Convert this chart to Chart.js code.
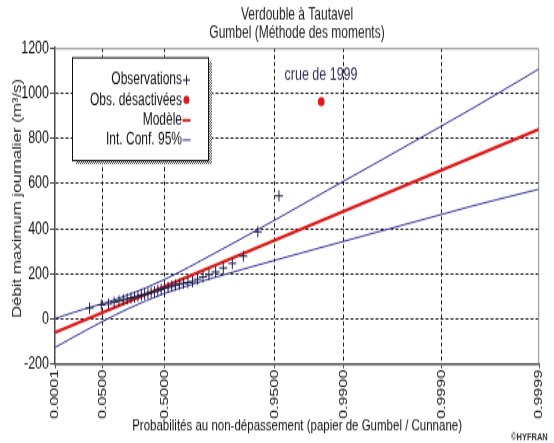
<!DOCTYPE html>
<html>
<head>
<meta charset="utf-8">
<script src="https://cdn.jsdelivr.net/npm/chart.js@4.4.1/dist/chart.umd.min.js"></script>
<style>
  html, body { margin: 0; padding: 0; background: #fff; overflow: hidden; }
</style>
</head>
<body>
<!-- drawn on a 554x316 canvas, shown stretched to 554x443 -->
<canvas id="gumbelChart" width="554" height="316" style="display:block;width:554px;height:443px;"></canvas>
<script>
const FONT = "'Liberation Sans', Arial, sans-serif";

const titleLines = ['Verdouble à Tautavel', 'Gumbel (Méthode des moments)'];
const xTitle = 'Probabilités au non-dépassement (papier de Gumbel / Cunnane)';
const yTitle = 'Débit maximum journalier (m³/s)';

// probability ticks of the Gumbel paper
const xTickProbs = [0.0001, 0.05, 0.5, 0.95, 0.99, 0.999, 0.9999];
const xTickLabels = ['0.0001', '0.0500', '0.5000', '0.9500', '0.9900', '0.9990', '0.9999'];

// annual maxima (Cunnane positions)
const obsProb = [0.0170, 0.0455, 0.0739, 0.1023, 0.1307, 0.1591, 0.1875, 0.2159, 0.2443, 0.2727,
  0.3011, 0.3295, 0.3580, 0.3864, 0.4148, 0.4432, 0.4716, 0.5000, 0.5284, 0.5568,
  0.5852, 0.6136, 0.6420, 0.6705, 0.6989, 0.7273, 0.7557, 0.7841, 0.8125, 0.8409,
  0.8693, 0.8977, 0.9261, 0.9545];
const obsFlow = [48, 62, 66, 74, 80, 85, 89, 93, 97, 101,
  105, 109, 113, 117, 121, 126, 131, 136, 140, 145,
  150, 154, 158, 161, 165, 176, 186, 196, 208, 226,
  246, 278, 386, 545];

// 1999 flood, left out of the fit
const offProb = [0.9830];
const offFlow = [962];
const floodNote = 'crue de 1999';
const floodNoteProb = 0.96;
const floodNoteFlow = 1080;

// fitted Gumbel line (straight on this paper)
const modelProb = [0.0001, 0.9999];
const modelFlow = [-60, 841];

// 95% confidence band
const ciProb = [0.0001, 0.01, 0.05, 0.2, 0.5, 0.8, 0.9, 0.95, 0.98, 0.99, 0.995, 0.999, 0.9995, 0.9999];
const ciUpper = [2, 44, 68, 108, 175, 286, 363, 438, 537, 611, 684, 855, 929, 1108];
const ciLower = [-126, -54, -11, 47, 113, 181, 222, 260, 308, 344, 380, 463, 499, 575];

const gumbel = p => -Math.log(-Math.log(p));
const toPoints = (probs, flows) => probs.map((p, i) => ({ x: gumbel(p), y: flows[i] }));

const NAVY = '#1e1e48';
const RED = '#dc1a1a';
const BLUE = '#34349c';

const legendItems = [
  { text: 'Observations', kind: 'cross', color: NAVY },
  { text: 'Obs. désactivées', kind: 'dot', color: RED },
  { text: 'Modèle', kind: 'dash', color: RED, width: 2 },
  { text: 'Int. Conf. 95%', kind: 'dash', color: BLUE, width: 1 }
];

const decorations = {
  id: 'decorations',
  afterDatasetsDraw(chart) {
    const { ctx, chartArea: a, scales: { x, y } } = chart;
    ctx.save();
    // light frame on top and right
    ctx.strokeStyle = '#8c8c8c';
    ctx.lineWidth = 1;
    ctx.beginPath();
    ctx.moveTo(a.left, a.top + 0.5);
    ctx.lineTo(a.right - 0.5, a.top + 0.5);
    ctx.lineTo(a.right - 0.5, a.bottom);
    ctx.stroke();

    ctx.font = '12.5px ' + FONT;
    ctx.fillStyle = '#2e2e5c';
    ctx.textAlign = 'left';
    ctx.textBaseline = 'middle';
    ctx.fillText(floodNote, x.getPixelForValue(gumbel(floodNoteProb)), y.getPixelForValue(floodNoteFlow));
    ctx.restore();
  },
  afterDraw(chart) {
    const { ctx } = chart;
    ctx.save();
    // title
    ctx.font = '12px ' + FONT;
    ctx.fillStyle = '#222';
    ctx.textAlign = 'center';
    ctx.textBaseline = 'middle';
    ctx.fillText(titleLines[0], 297, 10.2);
    ctx.fillText(titleLines[1], 297, 23.6);

    // y axis title, a little above the axis middle
    ctx.save();
    ctx.translate(17.5, 141.5);
    ctx.rotate(-Math.PI / 2);
    ctx.fillText(yTitle, 0, 0);
    ctx.restore();

    // legend box with dithered shadow
    const bx = 72, by = 40.7, bw = 136, bh = 73.4;
    const dot = document.createElement('canvas');
    dot.width = 2; dot.height = 2;
    const dctx = dot.getContext('2d');
    dctx.fillStyle = '#ffffff'; dctx.fillRect(0, 0, 2, 2);
    dctx.fillStyle = '#505050'; dctx.fillRect(0, 0, 1, 1); dctx.fillRect(1, 1, 1, 1);
    ctx.fillStyle = ctx.createPattern(dot, 'repeat');
    ctx.fillRect(bx + bw, by + 3, 4, bh);
    ctx.fillRect(bx + 4, by + bh, bw, 3);
    ctx.fillStyle = '#fff';
    ctx.fillRect(bx, by, bw, bh);
    ctx.strokeStyle = '#111';
    ctx.lineWidth = 1;
    ctx.strokeRect(bx + 0.5, by + 0.5, bw, bh);

    ctx.textAlign = 'right';
    legendItems.forEach((item, i) => {
      const ly = 57.1 + i * 14.1;
      ctx.fillStyle = '#111';
      ctx.fillText(item.text, 182, ly);
      const mx = 186.5;
      ctx.strokeStyle = item.color;
      ctx.fillStyle = item.color;
      if (item.kind === 'cross') {
        ctx.lineWidth = 1;
        ctx.beginPath();
        ctx.moveTo(mx - 3.5, ly); ctx.lineTo(mx + 3.5, ly);
        ctx.moveTo(mx, ly - 3.5); ctx.lineTo(mx, ly + 3.5);
        ctx.stroke();
      } else if (item.kind === 'dot') {
        ctx.beginPath();
        ctx.arc(mx, ly, 3, 0, Math.PI * 2);
        ctx.fill();
      } else {
        ctx.lineWidth = item.width;
        ctx.beginPath();
        ctx.moveTo(mx - 4, ly + 0.5); ctx.lineTo(mx + 4, ly + 0.5);
        ctx.stroke();
      }
    });

    ctx.font = 'bold 7.5px ' + FONT;
    ctx.fillStyle = '#333';
    ctx.textAlign = 'left';
    ctx.fillText('©HYFRAN', 511, 311.5);
    ctx.restore();
  }
};

new Chart(document.getElementById('gumbelChart'), {
  type: 'scatter',
  data: {
    datasets: [
      { label: 'Observations', data: toPoints(obsProb, obsFlow), pointStyle: 'cross', pointRadius: 4, pointBorderWidth: 1, borderColor: NAVY, backgroundColor: NAVY },
      { label: 'Obs. désactivées', data: toPoints(offProb, offFlow), pointStyle: 'circle', pointRadius: 3.3, borderWidth: 0, borderColor: RED, backgroundColor: RED },
      { label: 'Modèle', data: toPoints(modelProb, modelFlow), showLine: true, borderColor: RED, borderWidth: 2.4, pointRadius: 0 },
      { label: 'Int. Conf. 95%', data: toPoints(ciProb, ciUpper), showLine: true, borderColor: BLUE, borderWidth: 1, pointRadius: 0, cubicInterpolationMode: 'monotone' },
      { label: 'Int. Conf. 95% (inf.)', data: toPoints(ciProb, ciLower), showLine: true, borderColor: BLUE, borderWidth: 1, pointRadius: 0, cubicInterpolationMode: 'monotone' }
    ]
  },
  options: {
    responsive: false,
    devicePixelRatio: 1,
    animation: false,
    layout: { padding: { top: 34.24, right: 4.5, left: 0, bottom: 0 } },
    plugins: { legend: { display: false }, tooltip: { enabled: false } },
    scales: {
      x: {
        type: 'linear',
        min: gumbel(xTickProbs[0]),
        max: gumbel(xTickProbs[xTickProbs.length - 1]),
        afterBuildTicks: s => { s.ticks = xTickProbs.map(p => ({ value: gumbel(p) })); },
        afterFit: s => { s.height = 56.3; },
        ticks: {
          autoSkip: false, minRotation: 90, maxRotation: 90, padding: 1,
          color: '#111', font: { family: FONT, size: 11.5 },
          callback: (v, i) => xTickLabels[i]
        },
        grid: {
          color: c => (c.index > 0 && c.index < xTickProbs.length - 1) ? '#1a1a1a' : 'rgba(0,0,0,0)',
          tickColor: '#444', tickLength: 3, lineWidth: 1
        },
        border: { display: true, color: '#4a4a4a', width: 1.5, dash: [3, 2] },
        title: { display: true, text: xTitle, color: '#111', font: { family: FONT, size: 11.5 }, padding: { top: 0, bottom: 5.2 } }
      },
      y: {
        min: -200,
        max: 1200,
        afterFit: s => { s.width = 55; },
        ticks: {
          stepSize: 100, padding: 1, color: '#111', font: { family: FONT, size: 12.5 },
          callback: v => (v % 200 === 0 ? String(v) : '')
        },
        grid: {
          color: c => (c.tick && c.tick.value % 200 === 0 && c.tick.value > -200 && c.tick.value < 1200) ? '#1a1a1a' : 'rgba(0,0,0,0)',
          tickColor: '#444', tickLength: 5, lineWidth: 1
        },
        border: { display: true, color: '#4a4a4a', width: 1.5, dash: [3, 2] }
      }
    }
  },
  plugins: [decorations]
});
</script>
</body>
</html>
